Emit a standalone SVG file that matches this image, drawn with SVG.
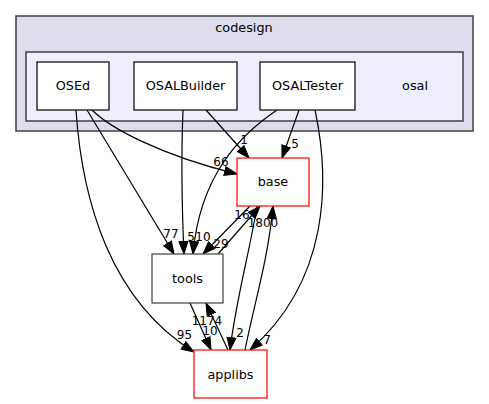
<svg xmlns="http://www.w3.org/2000/svg" width="489" height="404" viewBox="0 0 489 404">
<style>
.t{font-family:"DejaVu Sans",sans-serif;font-size:12.8px;fill:#000;text-anchor:middle}
.l{font-family:"DejaVu Sans",sans-serif;font-size:12px;fill:#000;text-anchor:middle}
.n{fill:#fff;stroke:#000;stroke-width:1.2}
.r{fill:#fff;stroke:#ff0000;stroke-width:1.2}
.e{fill:none;stroke:#000;stroke-width:1.2;marker-end:url(#a)}
</style>
<defs>
<marker id="a" markerUnits="userSpaceOnUse" markerWidth="14" markerHeight="11" refX="13" refY="5.5" orient="auto">
<path d="M0.5,1 L13,5.5 L0.5,10 z" fill="#000" stroke="#000" stroke-width="1"/>
</marker>
</defs>
<rect width="489" height="404" fill="#fff"/>
<g id="cluster_codesign">
<rect x="16" y="16" width="457" height="115" fill="#ddddee" stroke="#404040" stroke-width="1.5"/>
<text class="t" x="244" y="32">codesign</text>
</g>
<g id="cluster_osal">
<rect x="26" y="52" width="437" height="69" fill="#eeeeff" stroke="#404040" stroke-width="1.5"/>
<text class="t" x="415" y="90">osal</text>
</g>
<g id="connectors">
<path class="e" d="M92,110 C110,128 160,155 237,174"/>
<path class="e" d="M87,110 L174,254"/>
<path class="e" d="M76,110 C82,200 110,300 194,352"/>
<path class="e" d="M183,110 C181,160 182,210 184,254"/>
<path class="e" d="M206,110 L249,158"/>
<path class="e" d="M277,110 C240,135 200,175 193,254"/>
<path class="e" d="M299,110 L282,158"/>
<path class="e" d="M315,110 C330,180 330,280 250,350"/>
<path class="e" d="M250,206 L203,254"/>
<path class="e" d="M218,254 L260,206"/>
<path class="e" d="M257,206 C250,250 236,300 230,350"/>
<path class="e" d="M245,350 C255,300 268,260 273,206"/>
<path class="e" d="M190,303 L211,350"/>
<path class="e" d="M228,350 L206,303"/>
<text class="l" x="221" y="166">66</text>
<text class="l" x="244" y="144">1</text>
<text class="l" x="295" y="148">5</text>
<text class="l" x="171" y="238">77</text>
<text class="l" x="191" y="241">5</text>
<text class="l" x="203" y="241">10</text>
<text class="l" x="221" y="248">29</text>
<text class="l" x="242" y="219">16</text>
<text class="l" x="263" y="227">1800</text>
<text class="l" x="207" y="325">1174</text>
<text class="l" x="210" y="335">10</text>
<text class="l" x="240" y="337">2</text>
<text class="l" x="267" y="344">7</text>
<text class="l" x="184.5" y="339">95</text>
</g>
<g id="OSEd">
<rect class="n" x="37" y="62" width="72" height="48"/>
<text class="t" x="73" y="90">OSEd</text>
</g>
<g id="OSALBuilder">
<rect class="n" x="134" y="62" width="103" height="48"/>
<text class="t" x="185.5" y="90">OSALBuilder</text>
</g>
<g id="OSALTester">
<rect class="n" x="260" y="62" width="95" height="48"/>
<text class="t" x="307.5" y="90">OSALTester</text>
</g>
<g id="base">
<rect class="r" x="237" y="158" width="72" height="48"/>
<text class="t" x="273" y="186">base</text>
</g>
<g id="tools">
<rect x="152" y="254" width="71" height="49" fill="#fff" stroke="#404040" stroke-width="1.2"/>
<text class="t" x="187.5" y="283">tools</text>
</g>
<g id="applibs">
<rect class="r" x="194" y="350" width="73" height="48"/>
<text class="t" x="230.5" y="379">applibs</text>
</g>
</svg>
